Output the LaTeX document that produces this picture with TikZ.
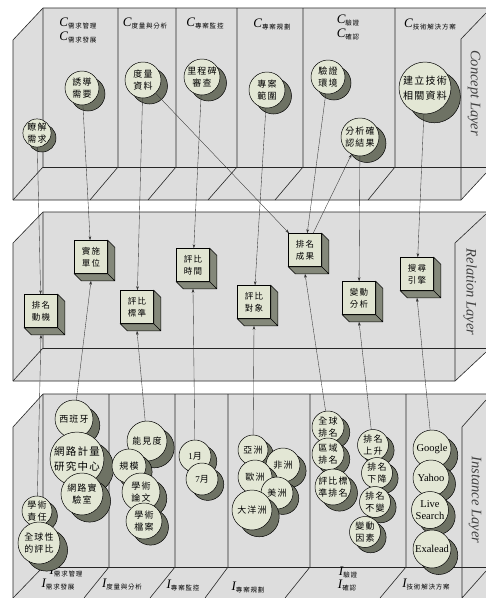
\documentclass[tikz,border=0pt]{standalone}
\usepackage{fontspec}
\setmainfont{Liberation Serif}
\newfontfamily\cjk[LetterSpace=12]{Noto Sans CJK TC}
\usetikzlibrary{arrows.meta}
\definecolor{layergray}{RGB}{221,221,221}
\definecolor{ballfill}{RGB}{227,231,213}
\definecolor{shadecol}{RGB}{110,114,100}
\definecolor{boxfill}{RGB}{225,229,210}
\definecolor{boxshade}{RGB}{132,136,122}
\newcommand{\clab}[2]{{\fontsize{13}{13}\selectfont\itshape #1}\raisebox{-2pt}{\fontsize{6.5}{6.5}\selectfont\cjk #2}}

\begin{document}
\begin{tikzpicture}[
    x=1pt, y=-1pt,
    edge/.style={black!85, line width=0.6pt},
    link/.style={black!80, line width=0.35pt, -{Stealth[length=4pt,width=2.6pt]}},
    crescent/.style={fill=shadecol, draw=black, line width=0.5pt},
    ball/.style={circle, draw=black, line width=0.5pt, fill=ballfill, inner sep=0pt,
                 minimum size=2*#1pt, align=center, font=\cjk\fontsize{9}{12.5}\selectfont},
    latin/.style={font=\fontsize{10.5}{12}\selectfont},
    cube/.style={draw=black, line width=0.5pt, fill=boxfill, minimum size=33pt,
                 inner sep=0pt, align=center, font=\cjk\fontsize{8.5}{12}\selectfont},
    layername/.style={rotate=-90, font=\itshape\fontsize{14.5}{14.5}\selectfont, black!75}
]
\useasboundingbox (0,0) rectangle (486,598);

% ---------- concept layer ----------
\fill[layergray] (13,40) -- (43,8) -- (486,8) -- (486,173) -- (461,200) -- (13,200) -- cycle;
\draw[edge] (13,200) -- (13,40) -- (43,8) -- (486,8);
\draw[edge] (43,8) -- (43,167) -- (13,200);
\draw[edge] (43,167) -- (486,167);
\draw[edge] (13,200) -- (461,200) -- (486,173);
\draw[edge] (486,13) -- (461,39) -- (461,200);
\foreach \x/\fx in {118/90, 176/148, 237/208, 303/275, 395/368}
  \draw[edge] (\x,8) -- (\x,167) -- (\fx,200);

% ---------- relation layer ----------
\fill[layergray] (13,243) -- (43,212) -- (486,212) -- (486,352) -- (455,381) -- (13,381) -- cycle;
\draw[edge] (13,381) -- (13,243) -- (43,212) -- (486,212);
\draw[edge] (43,212) -- (43,348) -- (13,381);
\draw[edge] (43,348) -- (486,348);
\draw[edge] (13,381) -- (455,381) -- (486,352);
\draw[edge] (486,214) -- (455,243) -- (455,381);

% ---------- instance layer ----------
\fill[layergray] (13,427) -- (43,394) -- (486,394) -- (486,598) -- (13,598) -- cycle;
\draw[edge] (13,598) -- (13,427) -- (43,394) -- (486,394);
\draw[edge] (43,394) -- (43,567) -- (13,598);
\draw[edge] (43,567) -- (486,567);
\draw[edge] (486,400) -- (462,427) -- (462,598) -- (486,571);
\foreach \x/\fx in {109/84, 175/150, 228/205, 310/285, 406/380}
  \draw[edge] (\x,394) -- (\x,567) -- (\fx,598);

% ---------- layer names ----------
\node[layername] (conceptL) at (474,93) {Concept Layer};
\node[layername] (relationL) at (470,292) {Relation Layer};
\node[layername] (instanceL) at (475,500) {Instance Layer};

% ---------- column labels ----------
\node (cReq) at (78,23) {\clab{C}{需求管理}};
\node (cDev) at (78,37) {\clab{C}{需求發展}};
\node (cMeas) at (145,23) {\clab{C}{度量與分析}};
\node (cMon) at (205,23) {\clab{C}{專案監控}};
\node (cPlan) at (272,24) {\clab{C}{專案規劃}};
\node (cVer) at (348,20) {\clab{C}{驗證}};
\node (cVal) at (348,34) {\clab{C}{確認}};
\node (cTech) at (430,24) {\clab{C}{技術解決方案}};

\node (iReq) at (66,572) {\clab{I}{需求管理}};
\node (iDev) at (58,585) {\clab{I}{需求發展}};
\node (iMeas) at (122,585) {\clab{I}{度量與分析}};
\node (iMon) at (183,585) {\clab{I}{專案監控}};
\node (iPlan) at (248,587) {\clab{I}{專案規劃}};
\node (iVer) at (348,572) {\clab{I}{驗證}};
\node (iVal) at (347,585) {\clab{I}{確認}};
\node (iTech) at (426,585) {\clab{I}{技術解決方案}};

% ---------- concepts ----------
\filldraw[crescent] (42,138) circle (14);
\node[ball=14] (know) at (37,133) {瞭解\\需求};
\filldraw[crescent] (88,94) circle (17);
\node[ball=17] (elicit) at (82,88) {誘導\\需要};
\filldraw[crescent] (149.5,86) circle (18);
\node[ball=18] (mdata) at (143,80) {度量\\資料};
\filldraw[crescent] (208.5,83) circle (18);
\node[ball=18] (mile) at (202,77) {里程碑\\審查};
\filldraw[crescent] (273.5,96) circle (18);
\node[ball=18] (scope) at (267,90) {專案\\範圍};
\filldraw[crescent] (334,83) circle (17);
\node[ball=17] (venv) at (328,77) {驗證\\環境};
\filldraw[crescent] (367,143.5) circle (19);
\node[ball=19] (vres) at (360,137) {分析確\\認結果};
\filldraw[crescent] (434.4,96.8) circle (26);
\node[ball=26, font=\cjk\fontsize{10}{15}\selectfont] (tech) at (425,88) {建立技術\\相關資料};

% ---------- relations ----------
\node[cube] (motive) at (41,311) {排名\\動機};
\node[cube] (unit) at (91,257) {實施\\單位};
\node[cube] (crit) at (137,307) {評比\\標準};
\node[cube] (ptime) at (193,265) {評比\\時間};
\node[cube] (target) at (254,302) {評比\\對象};
\node[cube] (result) at (305,250) {排名\\成果};
\node[cube] (change) at (359,298) {變動\\分析};
\node[cube] (engine) at (417,274) {搜尋\\引擎};
\foreach \b in {motive,unit,crit,ptime,target,result,change,engine}
  \draw[fill=boxshade, line width=0.5pt] (\b.north east) -- ++(7,7)
    -- ([shift={(7,7)}]\b.south east) -- ([shift={(7,7)}]\b.south west)
    -- (\b.south west) -- (\b.south east) -- cycle
    (\b.south east) -- ++(7,7);

% ---------- instances ----------
\filldraw[crescent] (80.8,425.5) circle (19);
\node[ball=19] (spain) at (74,419) {西班牙};
\filldraw[crescent] (86.7,468.2) circle (27);
\node[ball=27, font=\cjk\fontsize{10.5}{15}\selectfont] (cyber) at (77,459) {網路計量\\研究中心};
\filldraw[crescent] (89.6,501.1) circle (21);
\node[ball=21] (lab) at (82,494) {網路實\\驗室};
\filldraw[crescent] (42.4,516.1) circle (15);
\node[ball=15] (acad) at (37,511) {學術\\責任};
\filldraw[crescent] (46.6,550.1) circle (21);
\node[ball=21] (global) at (39,543) {全球性\\的評比};

\filldraw[crescent] (154.2,447.8) circle (20);
\node[ball=20] (vis) at (147,441) {能見度};
\filldraw[crescent] (135.1,471.8) circle (17);
\node[ball=17] (size) at (129,466) {規模};
\filldraw[crescent] (147.8,498.5) circle (19);
\node[ball=19] (paper) at (141,492) {學術\\論文};
\filldraw[crescent] (150.5,527.1) circle (18);
\node[ball=18] (arch) at (144,521) {學術\\檔案};

\filldraw[crescent] (200.8,461.4) circle (16);
\node[ball=16] (jan) at (195,456) {{\rmfamily 1}月};
\filldraw[crescent] (207.8,484.4) circle (16);
\node[ball=16] (jul) at (202,479) {{\rmfamily 7}月};

\filldraw[crescent] (258.4,455.1) circle (15);
\node[ball=15] (asia) at (253,450) {亞洲};
\filldraw[crescent] (289.1,470.8) circle (17);
\node[ball=17] (africa) at (283,465) {非洲};
\filldraw[crescent] (261.1,482.8) circle (17);
\node[ball=17] (europe) at (255,477) {歐洲};
\filldraw[crescent] (282.8,498.4) circle (16);
\node[ball=16] (america) at (277,493) {美洲};
\filldraw[crescent] (259.2,516.8) circle (20);
\node[ball=20] (oceania) at (252,510) {大洋洲};

\filldraw[crescent] (333.8,432.4) circle (16);
\node[ball=16] (gworld) at (328,427) {全球\\排名};
\filldraw[crescent] (333.8,459.4) circle (16);
\node[ball=16] (gregion) at (328,454) {區域\\排名};
\filldraw[crescent] (339.5,493.1) circle (18);
\node[ball=18] (gcrit) at (333,487) {評比標\\準排名};
\filldraw[crescent] (378.6,450.3) circle (15.5);
\node[ball=15.5] (up) at (373,445) {排名\\上升};
\filldraw[crescent] (382.6,478.3) circle (15.5);
\node[ball=15.5] (down) at (377,473) {排名\\下降};
\filldraw[crescent] (380.6,507.3) circle (15.5);
\node[ball=15.5] (same) at (375,502) {排名\\不變};
\filldraw[crescent] (370.6,537.3) circle (15.5);
\node[ball=15.5] (factor) at (365,532) {變動\\因素};

\filldraw[crescent] (438.8,455.5) circle (19);
\node[ball=19, latin] (google) at (432,449) {Google};
\filldraw[crescent] (437.5,484.1) circle (18);
\node[ball=18, latin] (yahoo) at (431,478) {Yahoo};
\filldraw[crescent] (436.7,516.3) circle (18.5);
\node[ball=18.5, latin] (live) at (430,510) {Live\\Search};
\filldraw[crescent] (438.8,555.5) circle (19);
\node[ball=19, latin] (exalead) at (432,549) {Exalead};

% ---------- concept -> relation ----------
\draw[link] (know) -- (motive);
\draw[link] (elicit) -- (unit);
\draw[link] (mdata) -- (crit);
\draw[link] (mdata) -- (result);
\draw[link] (mile) -- (ptime);
\draw[link] (scope) -- (target);
\draw[link] (venv) -- (result);
\draw[link] (result) -- (vres);
\draw[link] (vres) -- (change);
\draw[link] (tech) -- (engine);

% ---------- instance -> relation ----------
\draw[link] (acad) -- ([yshift=-7pt]motive.south);
\draw[link] (spain) -- ([yshift=-7pt]unit.south);
\draw[link] (vis) -- ([yshift=-7pt]crit.south);
\draw[link] (jan) -- ([yshift=-7pt]ptime.south);
\draw[link] (asia) -- ([yshift=-7pt]target.south);
\draw[link] (gworld) -- ([yshift=-7pt]result.south);
\draw[link] (up) -- ([yshift=-7pt]change.south);
\draw[link] (google) -- ([yshift=-7pt]engine.south);

\end{tikzpicture}
\end{document}
